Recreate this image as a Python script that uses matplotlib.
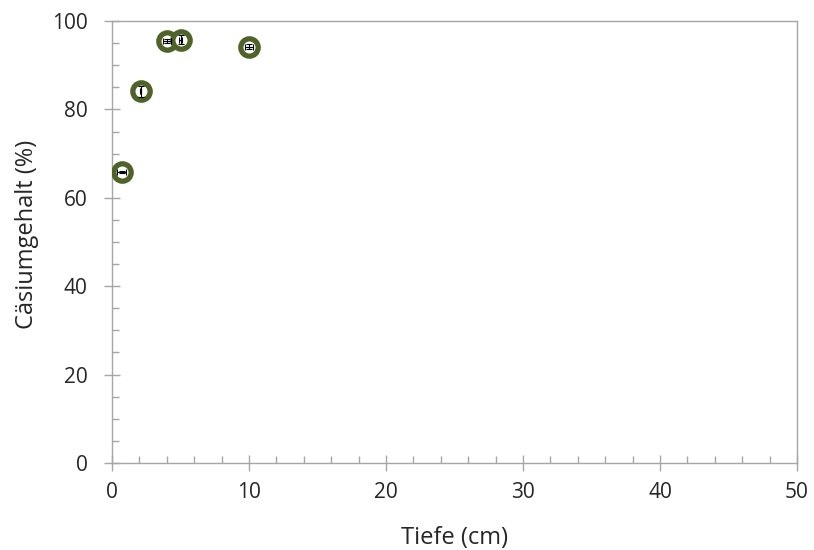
import matplotlib
matplotlib.use("Agg")
import matplotlib.pyplot as plt
from matplotlib.ticker import MultipleLocator

tiefe = [0.7, 2.1, 4.0, 5.0, 10.0]
caesium = [65.8, 84.1, 95.5, 95.8, 94.2]
tiefe_err = [0.3, 0.05, 0.27, 0.1, 0.32]
caesium_err = [0.3, 1.25, 0.4, 1.0, 0.6]

plt.rcParams['font.family'] = ['Open Sans', 'DejaVu Sans']

fig = plt.figure(figsize=(8.14, 5.5), dpi=100)
ax = fig.add_axes([0.1376, 0.1582, 0.8415, 0.8036])

ax.plot(tiefe, caesium, linestyle='none', marker='o', markersize=12.5,
        markerfacecolor='white', markeredgecolor='#4f6228', markeredgewidth=3.8, zorder=3)
ax.errorbar(tiefe, caesium, xerr=tiefe_err, yerr=caesium_err, fmt='none',
            ecolor='black', elinewidth=0.8, capsize=2, capthick=0.8, zorder=4)

ax.set_xlim(0, 50)
ax.set_ylim(0, 100)
ax.xaxis.set_major_locator(MultipleLocator(10))
ax.xaxis.set_minor_locator(MultipleLocator(2))
ax.yaxis.set_major_locator(MultipleLocator(20))
ax.yaxis.set_minor_locator(MultipleLocator(5))

for s in ax.spines.values():
    s.set_color('#a6a6a6')
    s.set_linewidth(1)

ax.tick_params(which='major', direction='inout', length=11, width=1, color='#a6a6a6',
               labelsize=15, labelcolor='#262626')
ax.tick_params(axis='y', which='major', pad=12)
ax.tick_params(axis='x', which='major', pad=8)
ax.tick_params(which='minor', direction='in', length=5, width=1, color='#a6a6a6')

ax.set_xlabel('Tiefe (cm)', fontsize=17, color='#262626')
ax.set_ylabel('Cäsiumgehalt (%)', fontsize=17, color='#262626')
ax.xaxis.set_label_coords(0.5, -0.143)
ax.yaxis.set_label_coords(-0.106, 0.516)

fig.savefig('out.png', dpi=100)
